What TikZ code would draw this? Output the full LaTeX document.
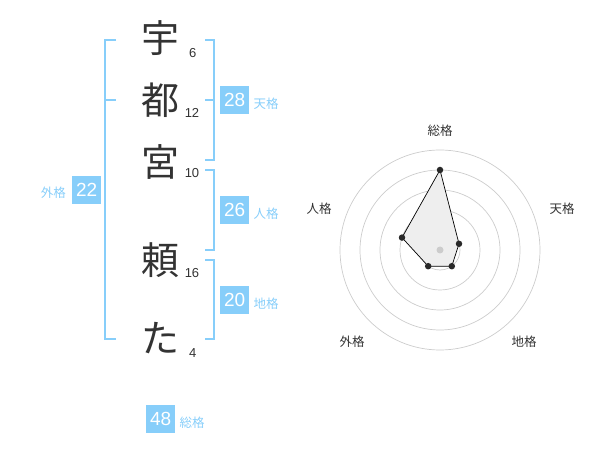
\documentclass[tikz,border=0pt]{standalone}
\usepackage{fontspec}
\setmainfont{Liberation Sans}
\newfontfamily\cjk{Noto Sans CJK JP}
\definecolor{kblue}{HTML}{87CEFA}
\definecolor{ktext}{HTML}{333333}
\definecolor{kgrid}{HTML}{CCCCCC}
\definecolor{kfill}{HTML}{EEEEEE}
\tikzset{
  bigchar/.style={inner sep=0pt, text=ktext, font=\cjk\fontsize{38}{38}\selectfont},
  strokes/.style={inner sep=0pt, text=ktext, font=\fontsize{13}{13}\selectfont},
  numbox/.style={fill=kblue, text=white, minimum width=29pt, minimum height=28pt, inner sep=0pt, font=\fontsize{19}{19}\selectfont},
  kaku/.style={inner sep=0pt, text=kblue, font=\cjk\fontsize{12.5}{12.5}\selectfont},
  bracket/.style={draw=kblue, line width=2pt},
  radarlbl/.style={inner sep=0pt, text=ktext, font=\cjk\fontsize{12.5}{12.5}\selectfont},
  ring/.style={draw=kgrid, line width=0.7pt},
  vdot/.style={circle, fill=ktext!80!black, inner sep=0pt, minimum size=6.5pt},
}
\begin{document}
\begin{tikzpicture}[x=1pt,y=-1pt]
\useasboundingbox (0,0) rectangle (600,470);
% characters
\node[bigchar] (c1) at (160,38.5) {宇};
\node[bigchar] (c2) at (160,100) {都};
\node[bigchar] (c3) at (160,161.5) {宮};
\node[bigchar] (c4) at (160,260) {頼};
\node[bigchar] (c5) at (160,338) {た};
% stroke counts
\node[strokes] (s1) at (192.7,52.7) {6};
\node[strokes] (s2) at (192,113.3) {12};
\node[strokes] (s3) at (192,172.7) {10};
\node[strokes] (s4) at (192,272.7) {16};
\node[strokes] (s5) at (192.7,353.3) {4};
% left bracket (外格)
\draw[bracket] (116,40) -- (105,40) -- (105,339.5) -- (116,339.5);
\draw[bracket] (105,100) -- (116,100);
% right brackets
\draw[bracket] (205,40) -- (214.3,40) -- (214.3,160) -- (205,160);
\draw[bracket] (205,100) -- (214.3,100);
\draw[bracket] (205,170) -- (214.3,170) -- (214.3,250) -- (205,250);
\draw[bracket] (205,260) -- (214.3,260) -- (214.3,339.5) -- (205,339.5);
% boxes and labels
\node[numbox] (gai) at (86.7,190) {22};
\node[kaku] (gail) at (53.3,193) {外格};
\node[numbox] (ten) at (234.7,100) {28};
\node[kaku] (tenl) at (266,104) {天格};
\node[numbox] (jin) at (234.7,210) {26};
\node[kaku] (jinl) at (266,214) {人格};
\node[numbox] (chi) at (234.7,300) {20};
\node[kaku] (chil) at (266,304) {地格};
\node[numbox] (sou) at (160.7,419) {48};
\node[kaku] (soul) at (192,423) {総格};
% radar chart
\coordinate (rc) at (440,250);
\foreach \r in {20,40,60,80,100} \draw[ring] (rc) circle[radius=\r];
\coordinate (pS) at (440,170);
\coordinate (pT) at (459.0,243.8);
\coordinate (pC) at (451.8,266.2);
\coordinate (pG) at (428.2,266.2);
\coordinate (pJ) at (402.0,237.6);
\filldraw[fill=kfill, draw=black, line width=0.7pt, line join=round] (pS) -- (pT) -- (pC) -- (pG) -- (pJ) -- cycle;
\fill[kgrid] (rc) circle[radius=3.5];
\foreach \p in {pS,pT,pC,pG,pJ} \node[vdot] at (\p) {};
\node[radarlbl] (rS) at (440,130.5) {総格};
\node[radarlbl] (rT) at (562,208.5) {天格};
\node[radarlbl] (rC) at (524,342) {地格};
\node[radarlbl] (rG) at (352,342) {外格};
\node[radarlbl] (rJ) at (319,208.5) {人格};
\end{tikzpicture}
\end{document}
